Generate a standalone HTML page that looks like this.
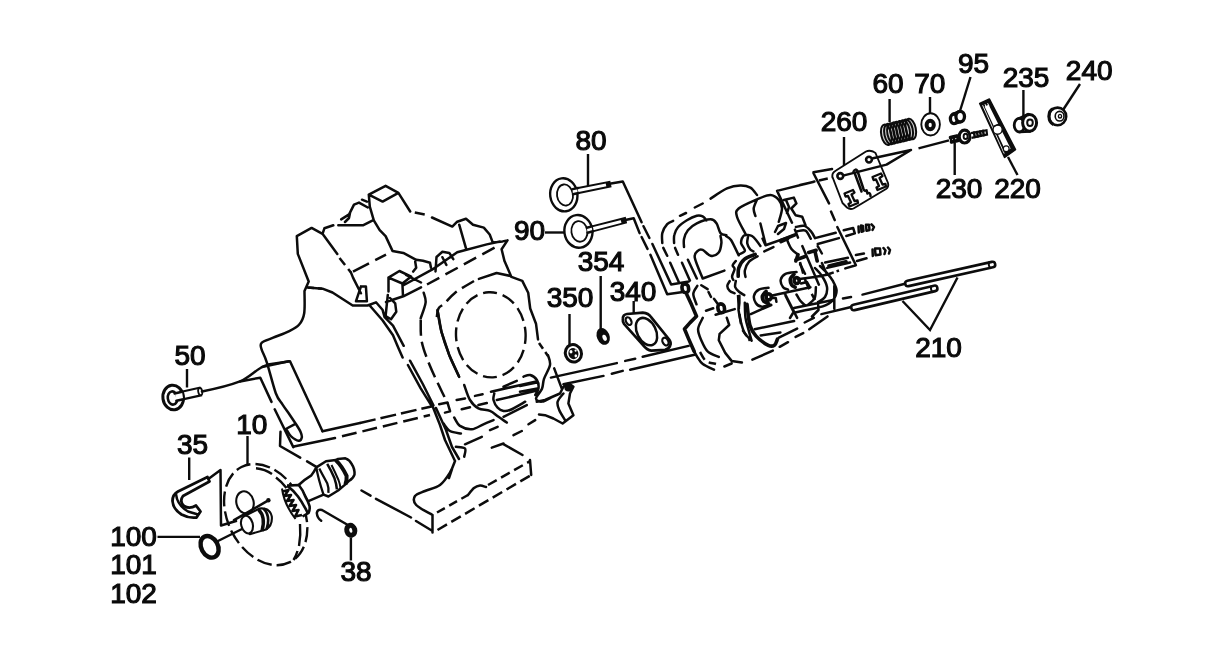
<!DOCTYPE html>
<html>
<head>
<meta charset="utf-8">
<title>Engine exploded view</title>
<style>
html,body{margin:0;padding:0;background:#fff;}
body{width:1232px;height:659px;overflow:hidden;font-family:"Liberation Sans",sans-serif;}
svg{display:block;filter:grayscale(1);}
.t{font-family:"Liberation Sans",sans-serif;font-size:28px;fill:#0a0a0a;stroke:#0a0a0a;stroke-width:1.15px;text-anchor:middle;}
.l{fill:none;stroke:#0c0c0c;stroke-width:2.5;stroke-linecap:round;stroke-linejoin:round;}
.ld{fill:none;stroke:#0c0c0c;stroke-width:2.4;stroke-linecap:butt;}
.h{fill:none;stroke:#0c0c0c;stroke-width:3.6;stroke-linecap:round;stroke-linejoin:round;}
.w{fill:#fff;stroke:#0c0c0c;stroke-width:1.9;stroke-linejoin:round;}
.k{fill:#0c0c0c;stroke:none;}
</style>
</head>
<body>
<svg width="1232" height="659" viewBox="0 0 1232 659">
<rect x="0" y="0" width="1232" height="659" fill="#ffffff"/>

<!-- ===== LABELS ===== -->
<g id="labels">
<text class="t" x="888" y="93">60</text>
<text class="t" x="929.8" y="93">70</text>
<text class="t" x="973.5" y="72.5">95</text>
<text class="t" x="1026" y="87">235</text>
<text class="t" x="1089.2" y="80">240</text>
<text class="t" x="844" y="130.7">260</text>
<text class="t" x="959" y="197.5">230</text>
<text class="t" x="1017.5" y="197.5">220</text>
<text class="t" x="591" y="150">80</text>
<text class="t" x="529.5" y="240">90</text>
<text class="t" x="601" y="270.5">354</text>
<text class="t" x="570" y="307">350</text>
<text class="t" x="633" y="301">340</text>
<text class="t" x="938.5" y="357">210</text>
<text class="t" x="190.1" y="365.2">50</text>
<text class="t" x="251.8" y="434.2">10</text>
<text class="t" x="192.5" y="453.8">35</text>
<text class="t" x="133.5" y="545.6">100</text>
<text class="t" x="133.5" y="574.2">101</text>
<text class="t" x="133.5" y="603">102</text>
<text class="t" x="356" y="581.4">38</text>
</g>

<!-- ===== LEADERS ===== -->
<g id="leaders" class="ld">
<path d="M889.6 99 V122"/>
<path d="M930 97 V114"/>
<path d="M970.5 77 L960 111"/>
<path d="M1023.4 90 V117"/>
<path d="M1080 84 L1063 110"/>
<path d="M844 137 V165"/>
<path d="M954.7 143 V175"/>
<path d="M1008 157 L1017.5 175"/>
<path d="M588 154 V186"/>
<path d="M545 232.5 H564"/>
<path d="M600.7 276 V330"/>
<path d="M569.5 314 V345"/>
<path d="M633.7 301 V314"/>
<path d="M902.5 301 L930 330 L957.5 277.5"/>
<path d="M187 369 V387.5"/>
<path d="M247.5 436 V466"/>
<path d="M189.2 457.5 V480"/>
<path d="M157.5 536.9 H200"/>
<path d="M350.9 537.5 V560.5"/>
</g>


<g id="parts-tr">
<!-- spring 60 -->
<path class="k" d="M884.5 124.5 L908 119 L914 121.5 L916 131.5 L913 138.5 L890 144.8 L883.5 142.5 L881 134.5 Z" opacity="0.2"/>
<g fill="none" stroke="#0c0c0c" stroke-width="2"><ellipse cx="886.3" cy="134.8" rx="5" ry="10.4" transform="rotate(-12 886.3 134.8)"/><ellipse cx="889.4" cy="134.1" rx="5" ry="10.4" transform="rotate(-12 889.4 134.1)"/><ellipse cx="892.4" cy="133.4" rx="5" ry="10.4" transform="rotate(-12 892.4 133.4)"/><ellipse cx="895.5" cy="132.6" rx="5" ry="10.4" transform="rotate(-12 895.5 132.6)"/><ellipse cx="898.5" cy="131.9" rx="5" ry="10.4" transform="rotate(-12 898.5 131.9)"/><ellipse cx="901.6" cy="131.2" rx="5" ry="10.4" transform="rotate(-12 901.6 131.2)"/><ellipse cx="904.7" cy="130.4" rx="5" ry="10.4" transform="rotate(-12 904.7 130.4)"/><ellipse cx="907.7" cy="129.7" rx="5" ry="10.4" transform="rotate(-12 907.7 129.7)"/><ellipse cx="910.8" cy="129.0" rx="5" ry="10.4" transform="rotate(-12 910.8 129.0)"/></g>
<!-- washer 70 -->
<ellipse class="w" cx="930.6" cy="124.4" rx="9.3" ry="11.1" stroke-width="3"/>
<ellipse cx="930.2" cy="125" rx="3.6" ry="4.2" fill="#fff" stroke="#0c0c0c" stroke-width="4"/>
<!-- 95 -->
<ellipse cx="954" cy="118.8" rx="3.6" ry="4.8" fill="#fff" stroke="#0c0c0c" stroke-width="3.3"/>
<ellipse cx="960.2" cy="116.6" rx="4.3" ry="5.3" fill="#fff" stroke="#0c0c0c" stroke-width="3.3"/>
<path class="l" d="M953 114 L959 111.5 M955 123.5 L961 122"/>
<!-- rocker 220 -->
<path d="M979.7 103.4 L989.4 99.1 L1015.5 149.5 L1004.6 157.4 Z" fill="#0c0c0c" stroke="#0c0c0c" stroke-width="1.6" stroke-linejoin="round"/>
<path d="M984.6 106.6 L988.6 104.8 L1010.6 148.4 L1006 151.8 Z" fill="#fff"/>
<path d="M982.6 105.2 L1004.2 153.6" fill="none" stroke="#fff" stroke-width="0.9"/>
<path d="M985 104.2 L986.4 107.4 M987.6 103.2 L989 106.2" fill="none" stroke="#fff" stroke-width="1"/>
<circle cx="997.6" cy="129.6" r="4.6" fill="#fff" stroke="#0c0c0c" stroke-width="1.4"/>
<path d="M994 126.4 L1000 123.6" stroke="#0c0c0c" stroke-width="1.4" fill="none"/>
<circle cx="1006.2" cy="148.8" r="2.9" fill="#fff" stroke="#0c0c0c" stroke-width="1.2"/>
<!-- screw 230 -->
<path class="h" d="M950.5 137.5 L957 136 M951.5 142 L958 140.5" stroke-width="2.2"/>
<path class="l" d="M950.5 137.5 L951.5 142 M953.5 136.8 L954.5 141.2 M957 136 L958 140.5" stroke-width="1.6"/>
<ellipse cx="964.6" cy="136.6" rx="5.4" ry="6.4" fill="#fff" stroke="#0c0c0c" stroke-width="3.2"/>
<ellipse cx="965.6" cy="136.4" rx="2" ry="2.6" fill="#fff" stroke="#0c0c0c" stroke-width="1.9"/>
<path d="M971 133.2 L986.5 130.2 L987 134.6 L971.5 137.8" fill="#fff" stroke="#0c0c0c" stroke-width="2.2"/>
<path class="l" d="M974 132.6 L974.8 137 M977 132 L977.8 136.4 M980 131.4 L980.8 135.8 M983 130.8 L983.8 135.2" stroke-width="2"/>
<!-- line wedge to screw -->
<path class="ld" d="M918.5 148.3 L949 140.4"/>
<!-- 235 -->
<ellipse cx="1019.4" cy="125.2" rx="5.2" ry="6.8" fill="#fff" stroke="#0c0c0c" stroke-width="2.8"/>
<path class="l" d="M1019 118.4 L1028 114 M1020 132 L1030 131.6"/>
<ellipse cx="1029.6" cy="122.8" rx="7" ry="8.4" fill="#fff" stroke="#0c0c0c" stroke-width="3"/>
<ellipse cx="1030" cy="122.8" rx="2.8" ry="3.2" fill="#fff" stroke="#0c0c0c" stroke-width="2"/>
<!-- 240 -->
<ellipse cx="1057.6" cy="116.4" rx="8.6" ry="8.8" fill="#fff" stroke="#0c0c0c" stroke-width="2.6"/>
<path d="M1053 108.6 C1047.5 111 1047.5 122 1053.5 124.6" fill="none" stroke="#0c0c0c" stroke-width="3"/>
<ellipse cx="1059.6" cy="116.2" rx="4.4" ry="4.8" fill="#fff" stroke="#0c0c0c" stroke-width="1.6"/>
<ellipse cx="1060" cy="116.2" rx="1.6" ry="1.8" fill="#fff" stroke="#0c0c0c" stroke-width="1.4"/>
<!-- plate 260 -->
<path class="w" d="M836 170.5 L866 151.5 Q869 150 873 151.5 L875.5 153 L888 183 Q889 187 886 189 L853.5 208.5 Q850 210 847 207.5 L842.5 203 L832.5 177 Q831.5 173 836 170.5 Z" stroke-width="2.7"/>
<!-- holes -->
<circle cx="869" cy="159.6" r="2.9" fill="#fff" stroke="#0c0c0c" stroke-width="2.6"/>
<circle cx="840.3" cy="176" r="2.9" fill="#fff" stroke="#0c0c0c" stroke-width="2.6"/>
<!-- wedge pointer -->
<path class="l" d="M873 158.2 L911 150 L886.5 164.6 L844 175.4"/>
<!-- center slot -->
<path class="l" d="M853.5 171.5 Q855.5 168 857.5 171 L863.5 189 Q864.5 191.5 866.5 190.5 M855 174 L861.5 191.5"/>
<!-- small clips -->
<path d="M872.5 177 L881 173.5 L882.5 176 L879.5 178 L882.5 184.5 L885.5 184 L886 186.5 L877.5 190 L876.5 187.5 L879 186 L876 179.5 L873.5 180 Z" fill="#fff" stroke="#0c0c0c" stroke-width="2.3" stroke-linejoin="round"/>
<path d="M844.5 193.5 L853 190 L854.5 192.5 L851.5 194.5 L854.5 201 L857.5 200.5 L858 203 L849.5 206.5 L848.5 204 L851 202.5 L848 196 L845.5 196.5 Z" fill="#fff" stroke="#0c0c0c" stroke-width="2.3" stroke-linejoin="round"/>
<!-- notch bottom -->
<path class="l" d="M866.5 190.5 L867.5 193.5 Q870.5 192 870.5 196"/>
</g>

<!-- PARTS_TOP_RIGHT_END -->


<g id="parts-mid">
<!-- valve 80 -->
<path d="M573 189 L609.5 181.8 L610.5 186.4 L574 194" fill="#fff" stroke="#0c0c0c" stroke-width="1.9"/>
<path class="k" d="M605.5 182.4 L610 181.6 L611 186.4 L606.5 187.3 Z"/>
<ellipse cx="563.8" cy="194.8" rx="13.6" ry="16.6" fill="#fff" stroke="#0c0c0c" stroke-width="2.4" transform="rotate(-8 563.8 194.8)"/>
<ellipse cx="565" cy="195" rx="8" ry="10.6" fill="#fff" stroke="#0c0c0c" stroke-width="1.8" transform="rotate(-8 565 195)"/>
<path d="M572.5 189.2 L577 188.3 L577.8 193.2 L573 194.2 Z" fill="#fff" stroke="none"/>
<path class="l" d="M572.6 189.1 L578 188 M573 194.2 L578.5 193.1"/>
<path class="l" d="M611 183.4 L622.8 181.4 L641.6 222.3"/>
<!-- valve 90 -->
<path d="M587 227.6 L625 218 L626 222.6 L588 232.6" fill="#fff" stroke="#0c0c0c" stroke-width="1.9"/>
<path class="k" d="M620.5 219.2 L625 218 L626.2 222.6 L621.7 223.8 Z"/>
<ellipse cx="578.4" cy="231.4" rx="14" ry="16.4" fill="#fff" stroke="#0c0c0c" stroke-width="2.4" transform="rotate(-8 578.4 231.4)"/>
<ellipse cx="579.4" cy="231.4" rx="8" ry="10.4" fill="#fff" stroke="#0c0c0c" stroke-width="1.8" transform="rotate(-8 579.4 231.4)"/>
<path d="M586.8 227.7 L591.5 226.5 L592.5 231.4 L587.6 232.6 Z" fill="#fff" stroke="none"/>
<path class="l" d="M586.8 227.7 L592 226.4 M587.6 232.7 L593 231.3"/>
<path class="l" d="M626.5 219.8 L633.7 218.3 L639.6 233.1"/>
<!-- nut 350 -->
<ellipse cx="573.4" cy="353.3" rx="8" ry="8.8" fill="#fff" stroke="#0c0c0c" stroke-width="3" transform="rotate(-20 573.4 353.3)"/>
<ellipse cx="573.4" cy="353.6" rx="5" ry="5.6" fill="#0c0c0c" transform="rotate(-20 573.4 353.6)"/>
<ellipse cx="571" cy="351.8" rx="1.5" ry="1.8" fill="#fff"/>
<ellipse cx="575.8" cy="355.8" rx="1.3" ry="1.6" fill="#fff"/>
<ellipse cx="575.6" cy="350.6" rx="1" ry="1.2" fill="#fff"/>
<!-- washer 354 -->
<ellipse cx="603.2" cy="336.4" rx="5" ry="7.4" fill="#0c0c0c" stroke="#0c0c0c" stroke-width="2.6" transform="rotate(-22 603.2 336.4)"/>
<ellipse cx="604.6" cy="337.8" rx="2" ry="3.2" fill="#fff" transform="rotate(-22 604.6 337.8)"/>
<!-- gasket 340 -->
<path d="M622.8 318.4 Q623 314.6 627 314 L642.8 312.6 Q648.5 313 651.3 317.4 L669.2 339.5 Q671.5 343 670.2 345.5 Q669 349 665 349.8 L651.3 350.6 Q647 350 642.8 344.8 L624 323.9 Q622.5 321.5 622.8 318.4 Z" fill="#fff" stroke="#0c0c0c" stroke-width="2.7" stroke-linejoin="round"/>
<ellipse cx="646.5" cy="331.6" rx="9.4" ry="14.6" fill="#fff" stroke="#0c0c0c" stroke-width="2.5" transform="rotate(-27 646.5 331.6)"/>
<ellipse cx="628.6" cy="321.1" rx="2.6" ry="4.1" fill="#fff" stroke="#0c0c0c" stroke-width="2.2" transform="rotate(-27 628.6 321.1)"/>
<ellipse cx="665.4" cy="341.6" rx="2.8" ry="4.1" fill="#fff" stroke="#0c0c0c" stroke-width="2.2" transform="rotate(-27 665.4 341.6)"/>
<!-- pushrods 210 -->
<path class="l" d="M862.5 294.6 L905 283.8"/>
<path d="M908 283.4 L992.4 264.6" fill="none" stroke="#0c0c0c" stroke-width="8.2" stroke-linecap="round"/>
<path d="M908 283.4 L992.4 264.6" fill="none" stroke="#fff" stroke-width="3" stroke-linecap="round"/>
<path d="M989.6 261.6 Q987.4 265.4 990.8 268.6" fill="none" stroke="#0c0c0c" stroke-width="2"/>
<path d="M854 307.4 L934.6 288.4" fill="none" stroke="#0c0c0c" stroke-width="8.2" stroke-linecap="round"/>
<path d="M854 307.4 L934.6 288.4" fill="none" stroke="#fff" stroke-width="3" stroke-linecap="round"/>
<path d="M931.8 285.4 Q929.6 289.2 933 292.4" fill="none" stroke="#0c0c0c" stroke-width="2"/>
</g>



<g id="parts-left">
<!-- valve 50 -->
<path d="M176 393 L199.5 387.7 L201 395.4 L177 400.6" fill="#fff" stroke="#0c0c0c" stroke-width="2.2"/>
<ellipse cx="200.2" cy="391.6" rx="2" ry="3.6" fill="#fff" stroke="#0c0c0c" stroke-width="1.8" transform="rotate(-10 200.2 391.6)"/>
<ellipse cx="173.2" cy="397.5" rx="10.3" ry="12.3" fill="#fff" stroke="#0c0c0c" stroke-width="3" transform="rotate(-8 173.2 397.5)"/>
<ellipse cx="172.6" cy="398" rx="4.8" ry="6.6" fill="#fff" stroke="#0c0c0c" stroke-width="2.6" transform="rotate(-8 172.6 398)"/>
<path d="M175 393.4 L182 391.8 L183.2 399.2 L176.2 400.7 Z" fill="#fff" stroke="none"/>
<path class="l" d="M174.6 393.5 L182 391.8 M176.4 400.8 L183.4 399.2"/>
<!-- line from valve 50 to block -->
<path class="l" d="M202 391.4 C220 388 228 386 240 381.4 C252 376 258 367 268 364.6 L290 361.2 L322.5 431.2"/>
<path class="l" d="M240 381.4 L260.3 377.7 L271.5 401.9 M274.7 409.3 L293.3 447.1"/>
<!-- hook 35 -->
<path d="M207.5 477 L178 491.5 Q172.5 494.5 172.5 501 Q173 509 181.5 514.5 Q189 518.5 196.5 517.5 L200.5 511.5 L196 505.5 Q189.5 509.5 184 506 Q179 501.5 183 496 L209.5 481.5 Z" fill="#fff" stroke="#0c0c0c" stroke-width="2.8" stroke-linejoin="round"/>
<path class="l" d="M176 494 Q177 505 188 511.5 L198 514.5"/>
<path class="l" d="M209 478.5 L220.5 470 L221 525.5 L236 521"/>
<!-- ring 100 -->
<ellipse cx="209.6" cy="546.8" rx="8.3" ry="11.4" fill="#fff" stroke="#0c0c0c" stroke-width="4.4" transform="rotate(-28 209.6 546.8)"/>
<path class="l" d="M218 541 L250 525"/>
<!-- flywheel / gear 10 dashed -->
<ellipse cx="265.7" cy="514.6" rx="38" ry="53.4" fill="none" stroke="#0c0c0c" stroke-width="2.4" stroke-dasharray="15 5" stroke-dashoffset="9" transform="rotate(-27 265.7 514.6)"/>
<path d="M256 468.2 Q265 469 272 474 M276 477.5 Q282 482 286.5 488" fill="none" stroke="#0c0c0c" stroke-width="2.4"/>
<path d="M300 524 Q301 535 299 546 M297.5 551 Q296 556 293.5 560" fill="none" stroke="#0c0c0c" stroke-width="2.4"/>
<!-- inner hole -->
<ellipse cx="245" cy="502.4" rx="8.6" ry="11.2" fill="#fff" stroke="#0c0c0c" stroke-width="2.1" transform="rotate(-14 245 502.4)"/>
<!-- short shaft -->
<path d="M244.5 516 L259.5 508.5 Q270 507.5 271.8 516.5 Q272.6 525.5 266 529.5 L249.8 534.2 Z" fill="#fff" stroke="#0c0c0c" stroke-width="2.1" stroke-linejoin="round"/>
<path d="M258.5 509.5 Q266 517 262 531" fill="none" stroke="#0c0c0c" stroke-width="3.4"/>
<path d="M263.5 508.5 Q271 516 266.5 529.5" fill="none" stroke="#0c0c0c" stroke-width="2.6"/>
<ellipse cx="247" cy="524.6" rx="5.8" ry="9" fill="#fff" stroke="#0c0c0c" stroke-width="2.1" transform="rotate(-15 247 524.6)"/>
<path class="l" d="M234 520.2 L268.3 500.4"/>
<circle cx="268.4" cy="500.2" r="2.2" class="k"/>
<!-- camshaft -->
<path d="M298.7 485 Q305 479 311.4 475.3 Q314 472 316.3 467.4 L326 461.3 L335.7 460.1 L338.1 458.9 L345.4 458.3 Q350 460 351.5 463.8 Q355 469 354.5 474.7 Q353 479 349 480.8 L345.4 484.4 L338.1 490.5 L328.4 496.5 L323.5 494.7 L307.8 501.4 Z" fill="#fff" stroke="#0c0c0c" stroke-width="2.5" stroke-linejoin="round"/>
<path d="M319.3 468.6 Q322 474 327.2 483.2 Q329 488 328.4 492.9" fill="none" stroke="#0c0c0c" stroke-width="2.3"/>
<path d="M316.3 467.4 Q318 478 323.5 494.7" fill="none" stroke="#0c0c0c" stroke-width="2.3"/>
<path d="M327.2 463.8 Q331 470 334.5 478.3 Q336.5 484 336.9 489.3" fill="none" stroke="#0c0c0c" stroke-width="2.5"/>
<path d="M331.5 465 Q335 472 338.5 480 Q340 484 340.5 488" fill="none" stroke="#0c0c0c" stroke-width="2"/>
<path d="M335.7 460.1 Q342 466 346.6 475.9 Q347 480 345.4 484.4" fill="none" stroke="#0c0c0c" stroke-width="4"/>
<!-- bevel gear -->
<path d="M287.1 485.6 L298.7 485 Q303 490 305.3 496.5 Q308.5 502 309.6 506.3 L308.8 512.5 L302 516 Q296 508 298 496.5 Z" fill="#fff" stroke="none"/>
<path d="M287.1 485.6 Q293 490 298 496.5 Q302 502 304.1 506.3 Q306.5 510 307.8 513.5" fill="none" stroke="#0c0c0c" stroke-width="2.6"/>
<path d="M287.1 485.6 L298.7 485 Q303 490 305.3 496.5 Q308.5 502 309.6 506.3 Q310 510 308.6 512.8 L302.5 516.5" fill="none" stroke="#0c0c0c" stroke-width="2.6" stroke-linejoin="round"/>
<path d="M282.5 491.5 L288.5 490 L284.5 496 L291 495 L287 501 L293.5 500 L289.5 506 L296 505 L292.5 511 L298.5 510 L295 516.5 L302 515" fill="none" stroke="#0c0c0c" stroke-width="2.6" stroke-linejoin="round"/>
<path d="M282 488.5 Q284 504 295.5 519" fill="none" stroke="#0c0c0c" stroke-width="2"/>
<!-- 38 -->
<ellipse cx="350.8" cy="530.3" rx="4" ry="5" fill="#fff" stroke="#0c0c0c" stroke-width="5" transform="rotate(-15 350.8 530.3)"/>
<path class="l" d="M347 524.5 L322 510 Q317.5 508.8 316.8 513 Q317.2 518 321.2 520.8"/>
</g>


<!-- BLOCK_START -->
<g id="block">
<path class="l" d="M304.5 291.0 L308.7 281.5 L297.8 253.9 L296.8 236.1 L311.6 227.9 L322.5 233.8 L337.3 253.9 M351.0 272.6 L353.0 277.6 L360.9 293.3 M361.0 286.4 L356.0 301.2 L366.9 301.2 L365.9 286.4 L361.0 286.4 M322.5 233.8 L324.4 228.3 L333.3 225.3 M338.3 225.3 L362.9 225.3 L372.8 220.4 M341.2 219.4 L349.1 214.4 L354.0 204.6 L359.0 202.6 L367.8 207.5 M345.0 222.0 L349.0 218.0 L350.0 213.0 M362.0 199.7 L366.9 201.6 M368.8 194.7 L385.6 185.8 L398.4 192.8 L382.6 201.6 L368.8 194.7 M368.8 194.7 L369.8 206.6 L373.8 220.4 L379.7 230.2 L385.6 236.1 L392.5 250.9 L403.3 252.9 L416.2 259.8 L423.0 260.8 L430.0 262.8 L431.0 267.7 M398.4 192.8 L410.2 211.5 M432.0 217.5 L452.3 226.6 L457.2 221.7 L466.0 218.7 L473.0 224.7 L483.8 227.6 L489.7 234.5 L492.7 242.4 L502.6 241.4 L507.5 240.4 M459.2 224.7 L466.0 248.3 M415.2 261.8 L416.2 267.7 L413.2 271.6 M435.5 271.5 L436.5 257.0 L442.4 251.7 L449.3 252.9 L453.3 259.2 M442.4 257.2 L446.4 265.0 M406.0 275.0 L421.0 282.5 M388.5 277.6 L399.4 271.0 L411.2 276.6 L402.4 283.5 L388.5 277.6 M388.5 277.6 L388.5 291.4 M402.4 283.5 L403.0 296.3 M403.0 285.5 L432.0 269.7 L457.2 252.3 L486.8 244.4 L500.0 241.5 M386.0 302.0 L403.3 296.3 L421.0 287.4 M307.5 287.5 L322.5 288.7 L332.5 292.5 L352.7 305.5 L367.6 305.5 L376.0 302.3 L382.5 309.7 L384.6 317.2 M387.8 294.9 L385.6 316.0 L391.0 319.3 L396.3 311.8 L395.2 303.4 L390.0 298.0 M369.7 305.5 L382.5 320.3 L393.0 335.2 L398.4 347.9 L402.6 357.5 M407.9 365.0 L420.7 388.3 L431.3 405.3 M385.6 318.2 L393.0 325.6 L403.7 345.8 M410.0 360.7 L422.8 384.0 L433.4 405.3 M507.5 240.4 L501.6 249.3 L504.5 261.1 L511.4 276.9 L522.3 280.9 L528.2 292.7 L530.2 308.5 L536.0 323.7 L538.0 339.4 M548.0 355.2 C548.3 356.8 550.7 361.1 550.0 365.0 C549.3 368.9 545.3 374.9 544.0 378.9 C542.7 382.9 543.3 385.5 542.0 388.8 C540.7 392.1 536.0 396.5 536.0 398.6 C536.0 400.7 539.3 401.9 542.0 401.6 C544.7 401.3 550.3 397.8 552.0 397.0 M510.5 276.0 L496.6 273.0 L478.9 278.9 M437.5 309.9 C438.1 313.5 439.4 324.1 441.4 331.6 C443.4 339.2 446.3 347.6 449.3 355.2 C452.3 362.8 457.6 373.3 459.2 376.9 M464.2 385.0 C465.2 387.5 467.6 396.1 470.0 400.0 C472.4 403.9 475.1 406.6 478.4 408.4 C481.7 410.2 486.6 409.5 490.0 410.9 C493.4 412.3 495.7 414.9 498.5 416.8 C501.3 418.8 505.4 421.6 506.8 422.6 M423.7 292.7 C424.0 294.4 426.1 298.3 425.6 302.6 C425.1 306.9 421.5 315.7 420.7 318.3 M503.5 386.7 L516.8 380.9 M535.2 381.7 L491.0 391.7 M494.3 393.4 C494.2 394.5 492.9 397.6 493.5 400.0 C494.1 402.4 495.9 405.8 497.6 407.6 C499.3 409.4 501.4 410.5 503.5 410.9 C505.6 411.3 506.4 411.5 510.0 410.0 C513.6 408.5 522.7 403.1 525.2 401.7 M496.8 400.0 L536.0 390.9 M523.5 376.7 C524.6 376.4 528.0 374.4 530.2 375.0 C532.4 375.6 535.5 377.8 536.9 380.0 C538.3 382.2 538.8 385.9 538.5 388.4 C538.2 390.9 535.8 393.9 535.2 395.0 M304.5 291.0 C304.4 294.7 305.1 307.6 304.2 313.2 C303.3 318.8 301.6 321.8 299.0 324.8 C296.4 327.8 293.0 329.2 288.7 331.3 C284.4 333.4 277.7 335.8 273.2 337.7 C268.7 339.6 263.5 340.9 261.6 342.9 C259.7 344.8 260.7 346.2 261.6 349.4 C262.5 352.6 264.4 355.0 266.8 362.3 C269.2 369.6 273.2 386.1 275.8 393.2 C278.4 400.2 280.2 400.9 282.6 404.6 C285.0 408.3 287.7 411.8 290.0 415.2 C292.3 418.6 294.6 422.0 296.4 424.8 C298.2 427.6 299.8 430.1 300.7 432.2 C301.6 434.3 302.1 436.1 301.8 437.5 C301.5 438.9 300.4 440.9 298.6 440.7 C296.8 440.5 293.1 438.2 291.1 436.4 C289.2 434.6 287.6 431.2 286.9 430.1 M285.8 429.0 L294.9 424.2 M280.5 431.7 L280.0 446.0 L300.2 457.7 M307.1 461.4 L316.3 466.8 M262.0 367.0 L288.7 361.2 M322.5 431.2 L360.0 423.0 M293.9 446.5 L335.0 438.0 M439.2 404.2 L447.5 402.6 L450.0 410.9 M445.0 412.6 L450.0 411.4 M456.7 400.0 L465.0 398.4 M475.0 395.9 L482.6 394.2 M461.7 409.2 L470.0 407.2 M478.4 405.0 L486.8 403.0 M432.5 406.0 L440.0 425.0 L445.0 440.0 L455.0 461.0 M436.0 408.0 L446.0 430.0 L452.0 447.0 L459.0 459.0 M455.0 461.0 C454.2 462.9 452.5 468.5 450.0 472.5 C447.5 476.5 444.2 481.9 440.0 485.0 C435.8 488.1 429.2 489.2 425.0 491.0 C420.8 492.8 416.5 493.7 415.0 496.0 C413.5 498.3 413.3 501.8 416.2 505.0 C419.1 508.2 429.8 513.3 432.5 515.0 M452.0 469.0 L449.0 478.0 M432.5 515.0 L432.5 532.5 M361.5 490.5 L370.5 495.7 M376.0 498.8 L411.0 517.5 M416.0 521.0 L432.5 531.0 M468.0 495.0 C469.0 493.8 472.0 489.6 474.0 488.0 C476.0 486.4 478.0 485.7 480.0 485.5 C482.0 485.3 485.0 486.8 486.0 487.0 M530.0 460.0 L531.2 475.0 M502.5 443.7 L522.5 455.0 M491.8 447.6 L503.5 443.5 M513.5 435.1 L521.8 431.0 M528.5 424.3 L535.2 420.1 M536.7 401.8 L545.0 400.0 L560.0 393.5 L563.4 386.8 L570.0 384.3 L573.4 386.8 L570.0 393.5 L568.4 403.5 L573.4 415.2 L562.6 423.5 L553.4 418.5 L545.0 415.2 L539.0 414.5 M563.4 393.5 C562.4 394.9 558.3 399.1 557.6 401.8 C556.9 404.6 558.0 407.0 559.2 410.0 C560.4 413.0 564.0 418.3 565.0 420.0 M554.2 368.4 L561.7 388.4 M550.9 377.6 L616.8 363.1 M625.2 360.9 L635.2 358.7 M642.7 356.7 L688.6 345.9 M563.4 384.3 L603.5 375.9 M611.8 373.8 L622.7 370.9 M630.2 369.7 L694.5 354.7 M520.0 386.0 L536.7 382.6 M520.0 391.8 L537.5 388.4 M454.2 417.6 C455.2 419.0 457.1 423.9 460.0 425.9 C462.9 427.8 467.9 429.6 471.8 429.3 C475.7 429.0 479.8 425.8 483.4 424.3 C487.0 422.8 491.8 420.8 493.5 420.1 M503.5 416.8 L526.8 405.1 M490.0 430.1 L497.6 426.8 M443.4 423.4 C444.5 424.7 447.1 429.3 450.0 431.0 C452.9 432.7 459.1 433.1 460.9 433.5 M465.0 444.3 L481.8 436.8 M455.9 446.8 C457.4 447.1 463.6 446.8 465.0 448.5 C466.4 450.2 464.3 455.4 464.2 456.8"/>
<path class="l" stroke-dasharray="9 5" style="stroke-linecap:butt" d="M339.5 258.0 L351.0 272.6"/>
<path class="l" stroke-dasharray="18 7" style="stroke-linecap:butt" d="M353.0 271.6 L386.0 254.6"/>
<path class="l" stroke-dasharray="20 8" style="stroke-linecap:butt" d="M414.8 212.6 L424.7 214.6"/>
<path class="l" stroke-dasharray="14 7" style="stroke-linecap:butt" d="M427.0 284.5 L498.6 245.4"/>
<path class="l" stroke-dasharray="6 4" style="stroke-linecap:butt" d="M308.0 287.5 L322.0 288.7"/>
<path class="l" stroke-dasharray="7 4" style="stroke-linecap:butt" d="M539.0 343.0 L548.0 356.0"/>
<path class="l" stroke-dasharray="14 6" style="stroke-linecap:butt" d="M474.0 281.0 C470.9 282.9 460.1 288.9 455.2 292.7 C450.3 296.5 447.2 301.0 444.4 303.6 C441.6 306.2 439.8 305.8 438.5 308.5 C437.2 311.2 436.8 318.1 436.5 320.0"/>
<path class="l" stroke-dasharray="1 0" style="stroke-linecap:butt" d="M437.5 309.9 L441.4 331.6 L449.3 355.2 L459.2 376.9"/>
<path class="l" stroke-dasharray="16 6" style="stroke-linecap:butt" d="M420.7 319.7 C420.9 323.3 420.2 333.8 421.7 341.4 C423.2 348.9 426.2 356.4 429.6 365.0 C433.1 373.6 439.3 386.2 442.4 392.7 C445.5 399.2 447.1 402.1 448.0 404.0"/>
<path class="l" stroke-dasharray="16 5" style="stroke-linecap:butt" d="M360.0 423.0 L432.5 406.2"/>
<path class="l" stroke-dasharray="15 6" style="stroke-linecap:butt" d="M342.0 436.3 L430.0 415.0"/>
<path class="l" stroke-dasharray="9 5" style="stroke-linecap:butt" d="M437.0 512.5 L468.0 495.0"/>
<path class="l" stroke-dasharray="10 5" style="stroke-linecap:butt" d="M488.0 485.0 L530.0 461.2"/>
<path class="l" stroke-dasharray="11 5" style="stroke-linecap:butt" d="M437.5 530.0 L531.2 475.0"/>
<ellipse cx="490.8" cy="334.8" rx="34.8" ry="42.6" fill="none" stroke="#0c0c0c" stroke-width="2.4" stroke-dasharray="14 6" stroke-dashoffset="3" transform="rotate(-3 490.8 334.8)"/>
<ellipse cx="568.6" cy="388" rx="4.2" ry="3.4" fill="#0c0c0c"/>
</g>
<!-- BLOCK_END -->

<!-- HEAD_START -->
<g id="head">
<path class="l" d="M652.4 244.0 L671.1 284.4 L688.9 281.4 M650.4 254.8 L667.2 294.3 L683.0 291.9 M643.5 226.2 L649.4 238.0 M641.6 237.0 L647.5 248.9 M663.3 247.9 L667.2 255.8 M670.2 262.7 L679.0 282.4 M675.1 247.9 L678.0 254.8 M682.0 262.7 L689.9 280.5 M687.9 259.7 L696.8 278.5 M662.3 243.0 C662.3 241.3 661.5 236.2 662.3 233.1 C663.1 230.0 665.4 226.2 667.2 224.2 C669.0 222.2 672.1 221.4 673.1 220.9 M680.0 215.8 L686.0 213.0 M694.8 207.5 L702.7 203.5 M710.6 198.6 C713.3 196.9 722.0 190.6 727.0 188.4 C732.0 186.2 736.4 185.5 740.3 185.4 C744.2 185.3 747.6 186.0 750.4 187.6 C753.2 189.2 755.9 193.8 757.0 195.0 M674.1 243.0 C674.1 241.7 673.6 237.6 674.3 235.0 C674.9 232.4 675.9 229.6 678.0 227.2 C680.1 224.8 683.8 222.2 686.9 220.3 C690.0 218.4 694.2 216.5 696.8 215.8 C699.4 215.2 701.1 215.7 702.7 216.4 C704.3 217.2 706.0 219.7 706.6 220.3 M684.0 246.9 C684.0 245.6 683.4 241.8 684.0 239.0 C684.6 236.2 685.8 232.8 687.9 230.2 C690.0 227.6 693.0 225.1 696.8 223.3 C700.6 221.5 707.3 219.3 710.6 219.3 C713.9 219.3 714.9 221.0 716.5 223.3 C718.1 225.6 718.9 231.1 720.5 233.1 C722.1 235.1 725.4 234.8 726.4 235.1 M726.0 236.0 C726.8 236.7 728.9 236.8 731.0 240.0 C733.1 243.2 737.4 252.8 738.7 255.3 M702.7 278.5 C701.4 275.1 695.6 262.4 694.8 257.8 C694.0 253.2 696.5 252.2 697.8 250.9 C699.1 249.6 700.6 249.1 702.7 249.9 C704.8 250.7 708.0 255.3 710.6 255.8 C713.2 256.3 716.7 254.9 718.5 252.8 C720.3 250.7 721.1 245.8 721.4 243.0 C721.7 240.2 720.6 237.2 720.5 236.0 M702.7 278.5 L724.4 270.6 M745.3 233.5 C743.9 230.7 738.1 221.0 737.0 216.8 C735.9 212.6 735.4 211.4 738.7 208.5 C742.0 205.6 751.7 201.6 757.0 199.3 C762.3 197.1 766.8 194.9 770.4 195.0 C774.0 195.1 776.9 197.8 778.8 200.0 C780.7 202.2 782.0 204.9 782.0 208.5 C782.0 212.1 779.3 219.6 778.8 221.8 M757.0 199.5 C756.5 201.0 754.0 205.8 753.7 208.5 C753.4 211.2 755.1 214.8 755.4 216.0 M760.4 223.5 L765.4 243.6 M775.0 232.0 L778.0 226.0 L786.0 223.0 L784.0 229.0 L778.0 234.0 M741.8 238.6 C741.7 239.4 740.7 241.5 741.2 243.5 C741.7 245.5 745.3 249.0 744.9 250.8 C744.5 252.6 739.8 253.8 738.8 254.4 M747.9 237.4 C747.8 238.4 746.9 241.5 747.3 243.5 C747.7 245.5 749.3 248.3 750.3 249.6 C751.3 250.9 752.9 251.1 753.4 251.4 M741.8 238.6 C742.2 238.1 743.0 236.1 744.0 235.5 C745.0 234.9 746.7 234.9 748.0 235.0 C749.3 235.1 750.7 235.2 752.0 236.0 C753.3 236.8 754.6 238.3 756.0 240.0 C757.4 241.7 759.7 245.0 760.4 246.0 M764.3 251.4 L773.4 247.1 M780.7 242.3 L788.0 239.2 M762.5 238.6 L765.5 245.3 L792.8 235.6 M757.6 256.2 C756.2 257.1 751.2 259.4 749.1 261.7 C747.0 264.0 745.5 267.7 744.9 270.2 C744.3 272.7 745.4 275.8 745.5 276.9 M735.8 261.1 C735.3 261.8 732.9 264.0 732.7 265.3 C732.5 266.6 734.7 267.2 734.6 269.0 C734.5 270.8 732.3 274.5 732.1 276.3 C731.9 278.1 733.1 279.3 733.3 279.9 M729.7 281.1 C729.3 281.9 727.3 284.4 727.3 286.0 C727.3 287.6 728.5 289.6 729.7 290.8 C730.9 292.0 733.8 292.9 734.6 293.3 M735.8 281.1 C735.7 282.1 734.6 285.4 735.2 287.2 C735.8 289.0 737.9 290.7 739.4 292.0 C740.9 293.3 743.5 294.6 744.3 295.1 M739.4 295.7 L739.4 303.0 L738.5 310.0 M777.1 190.9 L813.9 181.7 M777.1 190.9 L792.0 222.7 M802.3 246.1 L818.9 284.7 M813.5 172.3 L832.0 169.0 M813.5 173.2 L829.0 203.4 M831.0 211.6 L834.7 220.1 M837.3 227.0 L855.9 265.2 L845.3 268.4 M800.0 185.0 L814.4 181.6 M783.8 200.0 L793.8 197.6 L796.4 203.4 L791.3 208.5 L795.5 215.2 L802.2 216.8 L805.5 225.2 M786.0 200.0 L789.0 207.0 L787.0 213.0 M795.9 227.0 C797.3 226.8 801.9 225.2 804.4 225.9 C806.9 226.6 809.0 229.2 810.8 231.2 C812.6 233.2 814.3 236.9 815.0 238.1 M797.5 231.2 C798.8 231.1 803.3 229.4 805.5 230.7 C807.7 231.9 809.9 237.4 810.8 238.7 M794.9 229.6 L798.0 237.6 M787.4 240.8 C788.1 242.2 789.9 247.0 791.7 249.3 C793.5 251.6 797.0 253.7 798.0 254.6 M817.7 246.1 L821.9 253.5 M821.9 263.1 L826.7 273.7 M800.1 264.1 L805.0 273.8 M815.0 238.1 L835.7 232.8 M817.7 244.0 L838.9 238.1 M843.7 230.2 L853.2 228.0 L854.8 233.4 L846.3 236.0 M858.5 226.5 L858.8 232.5 M861.0 225.5 L863.0 226.0 L863.5 231.0 L861.5 231.8 L861.0 225.5 M866.0 224.8 L869.0 224.8 L869.5 230.0 L866.5 230.8 L866.0 224.8 M871.5 224.3 L874.0 227.0 L872.5 230.0 M825.1 262.5 L847.9 257.8 M827.2 267.9 L850.1 262.5 M855.9 255.1 L863.9 253.5 M857.0 261.0 L866.5 258.3 M872.5 249.5 L872.8 256.0 M875.0 248.5 L880.0 248.5 L880.5 254.5 L875.5 255.2 L875.0 248.5 M883.5 248.0 L885.5 250.5 L884.5 254.0 M888.0 247.5 L890.0 250.0 L889.0 253.5 M796.5 272.0 C794.7 272.3 788.1 272.5 785.5 273.8 C782.9 275.1 781.1 277.7 780.7 279.9 C780.3 282.1 781.9 285.6 783.1 287.2 C784.3 288.8 787.2 289.2 788.0 289.6 M768.5 287.8 C766.9 288.1 761.2 288.3 758.8 289.6 C756.4 290.9 754.5 293.5 754.0 295.7 C753.5 297.9 754.6 301.2 755.8 303.0 C757.0 304.8 758.8 306.3 761.3 306.6 C763.8 306.9 769.4 305.1 771.0 304.8 M797.7 279.3 L814.7 276.9 L826.8 274.8 M771.0 295.7 L810.4 287.2 M801.0 283.5 L807.0 282.0 L809.5 286.5 M772.2 298.1 L775.8 298.1 L776.4 301.8 M785.5 295.7 L794.0 312.7 M796.5 294.5 C797.1 295.5 798.7 298.7 800.1 300.5 C801.5 302.3 804.2 304.6 805.0 305.4 M815.9 287.2 C815.7 289.0 815.9 295.3 814.7 298.1 C813.5 300.9 809.6 303.2 808.6 304.2 M820.0 266.0 C821.1 267.1 824.7 270.4 826.8 272.8 C828.9 275.2 831.1 277.7 832.7 280.7 C834.3 283.7 836.6 287.3 836.6 290.6 C836.6 293.9 835.0 297.9 832.7 300.5 C830.4 303.1 827.4 304.8 822.8 306.4 C818.2 308.0 808.0 309.6 805.0 310.3 M815.0 268.0 C816.2 269.3 820.0 272.8 822.0 276.0 C824.0 279.2 826.5 283.5 827.0 287.0 C827.5 290.5 826.5 294.5 825.0 297.0 C823.5 299.5 819.2 301.2 818.0 302.0 M694.1 351.3 C694.6 352.2 695.8 354.8 697.3 356.9 C698.8 359.0 700.0 362.0 702.8 364.1 C705.6 366.2 712.1 368.8 714.0 369.7 M702.8 317.8 C702.0 319.7 698.4 325.3 698.1 329.0 C697.9 332.7 699.7 336.5 701.3 340.2 C702.9 343.9 704.7 348.5 707.6 351.3 C710.5 354.1 716.9 356.0 718.8 356.9 M726.8 317.8 L729.2 325.0 L719.6 333.8 L718.8 340.2 L725.2 352.9 L731.6 360.9 L741.9 362.5 M724.4 366.5 L731.6 363.5 M697.3 285.9 C696.6 287.2 693.4 290.8 693.3 293.9 C693.2 297.0 696.0 302.6 696.5 304.3 M701.3 285.2 L707.6 289.1 M708.5 292.0 L711.0 297.0 M714.0 298.7 L718.0 304.3 M706.0 310.7 L713.2 308.3 M715.6 314.7 L734.7 309.1 M752.4 359.7 L772.8 350.6 M779.7 346.8 L788.0 342.2 M795.6 336.9 L803.2 333.1 M809.3 329.3 L827.5 316.4 M778.9 337.7 L797.1 328.6 M804.7 322.5 L813.8 317.9 M738.5 310.0 C738.9 311.8 739.6 317.2 740.6 321.0 C741.6 324.8 742.9 329.7 744.5 332.8 C746.1 335.9 749.5 338.6 750.5 339.7 M744.8 302.8 C744.9 305.3 744.9 313.3 745.5 317.9 C746.1 322.4 747.6 326.3 748.6 330.1 C749.6 333.9 751.1 338.9 751.6 340.7 M750.8 314.1 L771.3 305.0 M754.6 329.3 L794.1 321.0 M760.7 335.4 L780.4 332.4 M794.0 308.0 L834.3 299.7 M834.3 286.0 L834.3 308.8 M821.4 314.1 L850.2 307.3 M785.0 293.7 L797.1 317.9 M805.0 310.3 L793.0 313.0 L790.0 318.0 M818.0 302.0 L818.5 310.0 L812.0 316.5 M843.0 298.5 L851.0 297.0"/>
<path class="h" d="M755.2 254.4 C753.4 255.2 747.0 257.1 744.3 259.3 C741.6 261.5 739.8 265.0 738.8 267.8 C737.8 270.6 738.3 274.9 738.2 276.3 M798.0 254.6 L795.9 261.0 M795.9 259.9 L804.4 256.7 M808.7 252.5 L816.1 250.3 M815.0 251.4 L817.2 261.0 M781.0 240.5 L794.9 234.9 M829.0 266.0 L846.0 261.8 M794.0 274.4 C793.4 275.1 790.8 277.0 790.4 278.7 C790.0 280.4 790.8 283.4 791.6 284.8 C792.4 286.2 794.6 286.8 795.2 287.2 M796.7 280.5 m-2.6 0 a2.6 3 0 1 0 5.2 0 a2.6 3 0 1 0 -5.2 0 M766.1 291.4 C765.5 292.1 762.9 294.1 762.5 295.7 C762.1 297.3 762.7 299.8 763.7 301.1 C764.7 302.4 767.7 303.2 768.5 303.6 M768.7 296.9 m-2.6 0 a2.6 3 0 1 0 5.2 0 a2.6 3 0 1 0 -5.2 0 M685.3 288.3 m-3.2 0 a3.2 3.8 -20 1 0 6.4 0 a3.2 3.8 -20 1 0 -6.4 0 M721.2 308.3 m-3.2 0 a3.2 3.8 -20 1 0 6.4 0 a3.2 3.8 -20 1 0 -6.4 0 M686.1 293.1 L691.7 305.1 L696.5 316.3 L690.1 322.6 L684.5 329.0 L688.5 338.6 L694.1 351.3 M747.0 304.3 C747.5 307.8 748.5 320.2 750.0 325.5 C751.5 330.8 753.1 332.8 756.1 336.1 C759.1 339.4 765.2 343.8 768.3 345.3 C771.3 346.8 772.9 346.3 774.4 345.3 C775.9 344.3 776.9 340.2 777.4 339.2"/>
<path class="l" stroke-dasharray="9 4" style="stroke-linecap:butt" d="M819.0 180.5 L832.0 177.5"/>
<path class="l" stroke-dasharray="5 3" style="stroke-linecap:butt" d="M829.0 274.0 L839.0 270.5"/>
<path class="l" stroke-dasharray="12 5" style="stroke-linecap:butt" d="M800.0 262.0 C801.0 265.3 803.5 275.7 806.0 282.0 C808.5 288.3 813.5 297.0 815.0 300.0"/>
<path class="l" stroke-dasharray="9 5" style="stroke-linecap:butt" d="M700.0 352.0 C701.0 353.5 703.3 359.0 706.0 361.0 C708.7 363.0 714.3 363.5 716.0 364.0"/>
<path class="l" stroke-dasharray="14 5" style="stroke-linecap:butt" d="M738.0 295.0 C738.2 297.5 738.5 305.2 739.0 310.0 C739.5 314.8 740.7 321.7 741.0 324.0"/>
<path class="l" stroke-dasharray="7 4" style="stroke-linecap:butt" d="M742.5 330.0 L750.0 340.7"/>
</g>
<!-- HEAD_END -->

</svg>
</body>
</html>
